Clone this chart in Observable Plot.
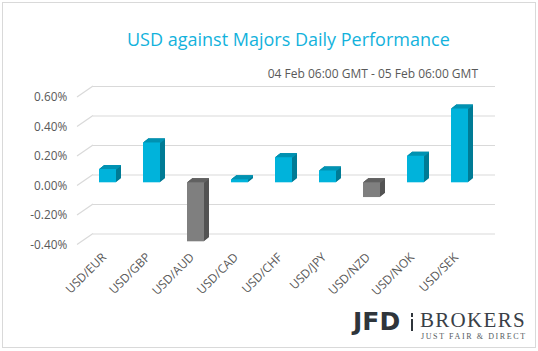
<!DOCTYPE html>
<html><head><meta charset="utf-8">
<script src="https://cdn.jsdelivr.net/npm/d3@7"></script>
<script src="https://cdn.jsdelivr.net/npm/@observablehq/plot@0.6"></script>
<style>
body{margin:0;background:#fff;font-family:"Open Sans",sans-serif;}
#wrap{position:relative;width:538px;height:351px;overflow:hidden;background:#fff;}
#frame{position:absolute;left:2px;top:2px;width:532px;height:344px;border:1px solid #d9d9d9;pointer-events:none;}
#head{position:relative;height:85px;}
#title{position:absolute;left:127px;top:27px;font-size:18px;line-height:24px;color:#13b2dc;white-space:nowrap;}
#sub{position:absolute;right:60px;top:66px;font-size:12px;line-height:16px;color:#595959;white-space:nowrap;}
#chart{height:220px;}
#logo{position:relative;height:46px;}
#jfd{position:absolute;left:353px;top:2px;font-family:"DejaVu Sans",sans-serif;font-weight:bold;font-size:25px;line-height:30px;letter-spacing:0px;color:#2f353b;}
#bar1{position:absolute;left:411px;top:8px;width:2px;height:4px;background:#2f353b;}
#bar2{position:absolute;left:411px;top:14px;width:2px;height:12px;background:#2f353b;}
#brk{position:absolute;left:420px;top:2px;font-family:"Liberation Serif",serif;font-size:21px;line-height:26px;letter-spacing:1.3px;color:#3a4047;}
#tag{position:absolute;left:421px;top:27px;font-family:"Liberation Serif",serif;font-size:8px;line-height:10px;letter-spacing:1.6px;color:#555b61;white-space:nowrap;}
</style>
</head><body>
<div id="wrap">
  <div id="head">
    <div id="title">USD against Majors Daily Performance</div>
    <div id="sub">04 Feb 06:00 GMT - 05 Feb 06:00 GMT</div>
  </div>
  <div id="chart"></div>
  <div id="logo">
    <div id="jfd">JFD</div><div id="bar1"></div><div id="bar2"></div>
    <div id="brk">BROKERS</div>
    <div id="tag">JUST FAIR &amp; DIRECT</div>
  </div>
  <div id="frame"></div>
</div>
<script>
const pairs = ["USD/EUR","USD/GBP","USD/AUD","USD/CAD","USD/CHF","USD/JPY","USD/NZD","USD/NOK","USD/SEK"];
const changes = [0.09, 0.27, -0.40, 0.02, 0.17, 0.08, -0.10, 0.18, 0.50];
const yTicks = [-0.4, -0.2, 0, 0.2, 0.4, 0.6];

const data = pairs.map((p, i) => ({pair: p, value: changes[i]}));
const pos = {front: "#00b3db", side: "#007b95", top: "#0093b3"};
const neg = {front: "#7f7f7f", side: "#535353", top: "#626262"};
const col = (d, k) => (d.value >= 0 ? pos : neg)[k];

const baseDy = -3.2;
const steps = d3.range(0.5, 5.01, 0.5);

const marks = [];
// back wall gridlines
marks.push(Plot.ruleY(yTicks, {stroke: "#d9d9d9", strokeWidth: 1.2, dy: -11, insetLeft: 23.3, insetRight: 2.7}));
// floor slants
marks.push((index, scales, values, dims) => {
  const g = d3.create("svg:g").attr("stroke", "#d9d9d9").attr("stroke-width", 1.2).attr("fill", "none");
  for (const t of yTicks) {
    const y = scales.y(t);
    g.append("line").attr("x1", dims.marginLeft + 7.3).attr("y1", y)
      .attr("x2", dims.marginLeft + 23.3).attr("y2", y - 11);
  }
  return g.node();
});
// extrusion (side)
for (const k of steps) {
  marks.push(Plot.rectY(data, {x: "pair", y1: 0, y2: "value", fill: d => col(d, "side"), dx: k, dy: baseDy - 0.8 * k}));
}
// top face
for (const k of steps) {
  marks.push(Plot.tickY(data, {x: "pair", y: d => Math.max(0, d.value), stroke: d => col(d, "top"), strokeWidth: 1, dx: k, dy: baseDy - 0.8 * k}));
}
// front face
marks.push(Plot.rectY(data, {x: "pair", y1: 0, y2: "value", fill: d => col(d, "front"), dy: baseDy}));
// y axis labels
marks.push(Plot.axisY(yTicks, {label: null, tickSize: 0, tickPadding: 3, tickFormat: d => d.toFixed(2) + "%", fontSize: 11.8}));
// x labels
marks.push(Plot.text(pairs, {x: d => d, frameAnchor: "bottom", rotate: -45, textAnchor: "end", dx: -1, dy: 13, fontSize: 12}));

const chart = Plot.plot({
  width: 538,
  height: 220,
  marginTop: 12,
  marginBottom: 60.5,
  marginLeft: 69.7,
  marginRight: 40.3,
  style: {color: "#595959", fontFamily: "'Open Sans', sans-serif", background: "transparent"},
  x: {domain: pairs, padding: 0.605, axis: null},
  y: {domain: [-0.4, 0.6], axis: null},
  color: {type: "identity"},
  marks
});
document.getElementById("chart").appendChild(chart);
</script>
</body></html>
